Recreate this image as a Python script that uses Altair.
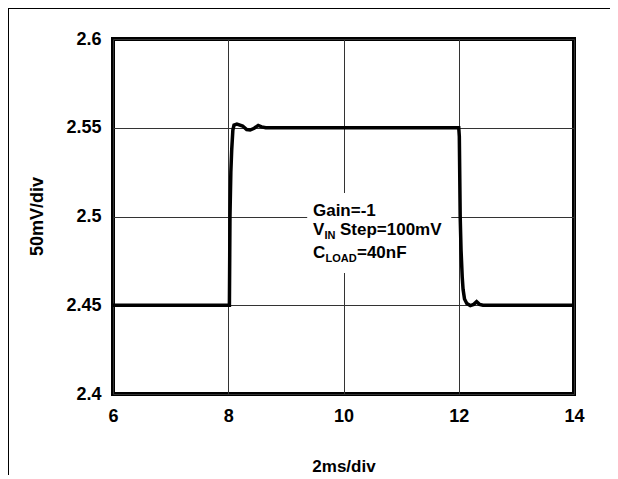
import altair as alt
import pandas as pd

# Waveform (time in ms, output in V)
t_ms = [6.0, 8.02, 8.025, 8.03, 8.045, 8.06, 8.08, 8.1, 8.15, 8.25, 8.32, 8.38,
        8.45, 8.52, 8.58, 8.65, 12.0, 12.01, 12.025, 12.04, 12.06, 12.075, 12.1,
        12.14, 12.2, 12.26, 12.31, 12.36, 12.42, 14.0]
v_out = [2.45, 2.45, 2.475, 2.5, 2.525, 2.5375, 2.5487, 2.5515, 2.552, 2.551, 2.549, 2.5487,
         2.5497, 2.5513, 2.5505, 2.55, 2.55, 2.545, 2.5, 2.481, 2.466, 2.459, 2.4535,
         2.451, 2.4498, 2.4505, 2.452, 2.4505, 2.45, 2.45]

x_ticks = [6, 8, 10, 12, 14]
y_ticks = [2.4, 2.45, 2.5, 2.55, 2.6]

df = pd.DataFrame({"t": t_ms, "v": v_out})

FONT = "Liberation Sans"
NARROW = "Liberation Sans Narrow, Arial Narrow, Liberation Sans"

xs = alt.Scale(domain=[6, 14], nice=False, zero=False)
ys = alt.Scale(domain=[2.4, 2.6], nice=False, zero=False)

x_axis = alt.Axis(values=x_ticks, title="2ms/div", grid=True, domain=False, ticks=False,
                  format="~g", labelPadding=13, labelFontSize=18, labelFontWeight="bold",
                  titleFontSize=17, titleFontWeight="bold", titleY=72, titleBaseline="middle",
                  labelFlush=False)
y_axis = alt.Axis(values=y_ticks, title="50mV/div", grid=True, domain=False, ticks=False,
                  format="~g", labelPadding=12, labelFontSize=18, labelFontWeight="bold",
                  titleFontSize=18, titleFontWeight="bold", titleX=-76, titleY=177,
                  titleAngle=270, titleAlign="center", titleBaseline="middle",
                  labelFlush=False)

line = alt.Chart(df).mark_line(color="black", strokeWidth=3.5, clip=True).encode(
    x=alt.X("t:Q", scale=xs, axis=x_axis),
    y=alt.Y("v:Q", scale=ys, axis=y_axis),
)

box_df = pd.DataFrame({"x1": [9.37], "x2": [11.87], "y1": [2.4682], "y2": [2.5132]})
box = alt.Chart(box_df).mark_rect(color="white").encode(
    x=alt.X("x1:Q", scale=xs), x2="x2:Q",
    y=alt.Y("y1:Q", scale=ys), y2="y2:Q",
)

def txt(text, x, y, size=17, dx=0, dy=0):
    d = pd.DataFrame({"x": [x], "y": [y], "s": [text]})
    return alt.Chart(d).mark_text(align="left", baseline="alphabetic", font=FONT,
                                  fontWeight="bold", fontSize=size, dx=dx, dy=dy,
                                  color="black").encode(
        x=alt.X("x:Q", scale=xs), y=alt.Y("y:Q", scale=ys), text="s:N")

tx = 9.47
texts = [
    txt("Gain=-1", tx, 2.5004),
    txt("V", tx, 2.4896),
    txt("IN", tx, 2.4896, size=11, dx=11.5, dy=4),
    txt("Step=100mV", tx, 2.4896, dx=27),
    txt("C", tx, 2.4766),
    txt("LOAD", tx, 2.4766, size=11, dx=12.5, dy=4),
    txt("=40nF", tx, 2.4766, dx=44),
]

# thin frame of the original screenshot (left and top edges)
frame_left = alt.Chart(pd.DataFrame({"a": [0]})).mark_rect(color="black").encode(
    x=alt.value(-105), x2=alt.value(-104), y=alt.value(-31), y2=alt.value(445))
frame_top = alt.Chart(pd.DataFrame({"a": [0]})).mark_rect(color="black").encode(
    x=alt.value(-105), x2=alt.value(497), y=alt.value(-31), y2=alt.value(-30))

chart = alt.layer(box, line, *texts, frame_left, frame_top).properties(
    width=461, height=355,
    autosize=alt.AutoSizeParams(type="none"),
    padding={"left": 105, "top": 31, "right": 36, "bottom": 81},
).configure_view(stroke="black", strokeWidth=4).configure_axis(
    gridColor="#333", gridWidth=1, gridOpacity=1, labelColor="black", titleColor="black",
    labelFont=NARROW, titleFont=FONT,
)

chart.save("out.html", embed_options={"renderer": "svg", "actions": False})
